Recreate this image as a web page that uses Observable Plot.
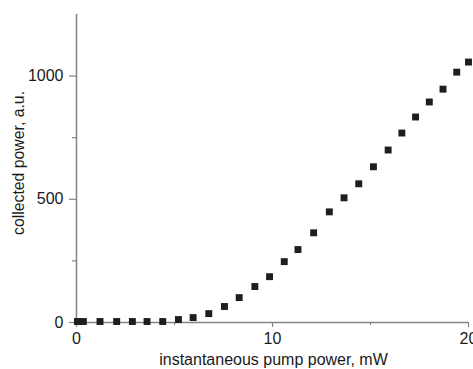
<!DOCTYPE html>
<html>
<head>
<meta charset="utf-8">
<script src="https://cdn.jsdelivr.net/npm/d3@7"></script>
<script src="https://cdn.jsdelivr.net/npm/@observablehq/plot@0.6"></script>
<style>
  html, body { margin: 0; padding: 0; background: #fff; }
  #chart svg { display: block; }
</style>
</head>
<body>
<div id="chart"></div>
<script>
const pumpPower = [0.05, 0.35, 1.2, 2.05, 2.85, 3.6, 4.4, 5.2, 5.95, 6.75, 7.55, 8.3, 9.1, 9.85, 10.6, 11.3, 12.1, 12.9, 13.65, 14.4, 15.15, 15.9, 16.6, 17.3, 18.0, 18.7, 19.4, 20.0];
const collectedPower = [4, 4, 4, 4, 4, 4, 4, 12, 20, 36, 65, 101, 146, 186, 247, 296, 364, 449, 506, 563, 632, 700, 769, 834, 895, 947, 1016, 1057];
const xMajorTicks = [0, 10, 20];
const xMinorTicks = [5, 15];
const yMajorTicks = [0, 500, 1000];
const yMinorTicks = [250, 750];
const xLabel = "instantaneous pump power, mW";
const yLabel = "collected power, a.u.";

const data = pumpPower.map((x, i) => ({x, y: collectedPower[i]}));
const axisColor = "#858585";
const textColor = "#1a1a1a";
const fmt = d => String(d);

const chart = Plot.plot({
  width: 473,
  height: 369,
  marginLeft: 76,
  marginRight: 5,
  marginTop: 14,
  marginBottom: 47,
  style: {fontFamily: "'Liberation Sans', Arial, sans-serif", fontSize: "16px", color: textColor, background: "#fff"},
  x: {domain: [0, 20]},
  y: {domain: [0, 1250]},
  marks: [
    Plot.ruleX([0], {stroke: axisColor, strokeWidth: 1.5}),
    Plot.ruleY([0], {stroke: axisColor, strokeWidth: 1.5}),
    Plot.axisX(xMajorTicks, {tickSize: 5, tickPadding: 5, tickFormat: fmt, stroke: axisColor, strokeWidth: 1.2, fill: textColor, fontSize: 16, label: null}),
    Plot.axisX(xMinorTicks, {tickSize: 3, text: null, stroke: axisColor, strokeWidth: 1.2, label: null}),
    Plot.axisY(yMajorTicks, {tickSize: 7, tickPadding: 6, tickFormat: fmt, stroke: axisColor, strokeWidth: 1.2, fill: textColor, fontSize: 16, label: null}),
    Plot.axisY(yMinorTicks, {tickSize: 4, text: null, stroke: axisColor, strokeWidth: 1.2, label: null}),
    Plot.text([xLabel], {frameAnchor: "bottom", lineAnchor: "middle", textAnchor: "middle", dx: 1, dy: 37, fill: textColor, fontSize: 16}),
    Plot.text([yLabel], {frameAnchor: "left", lineAnchor: "middle", textAnchor: "middle", dx: -58, dy: -5.5, rotate: -90, fill: textColor, fontSize: 15.8}),
    Plot.dot(data, {x: "x", y: "y", symbol: "square", r: 3.9, fill: "#1e1e1e", stroke: "none", clip: false})
  ]
});
document.getElementById("chart").append(chart);
</script>
</body>
</html>
